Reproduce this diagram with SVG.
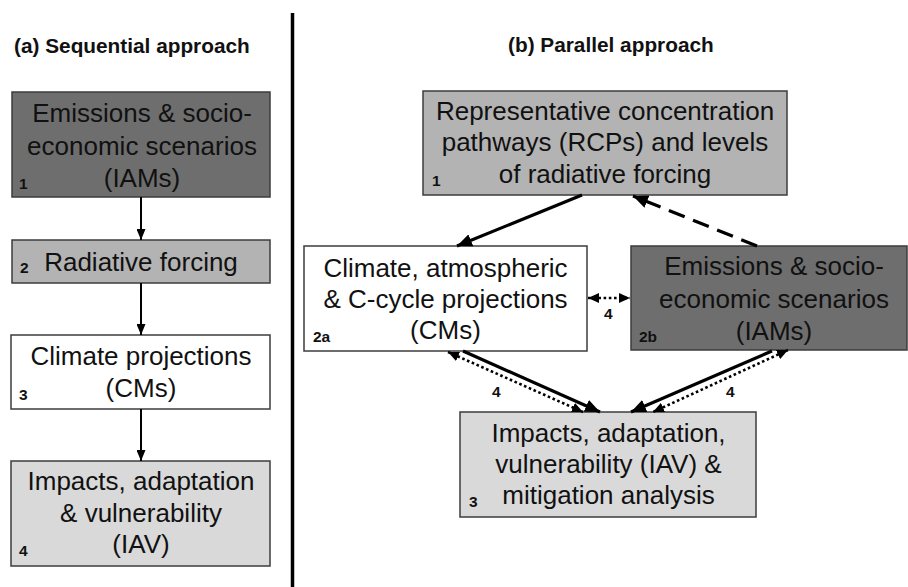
<svg xmlns="http://www.w3.org/2000/svg" width="908" height="587" viewBox="0 0 908 587">
<defs>
<style>
.bx{stroke:#3c3c3c;stroke-width:1.5}
.dark{fill:#6e6e6e}
.mid{fill:#b3b3b3}
.light{fill:#d9d9d9}
.white{fill:#ffffff}
.t{font-family:"Liberation Sans",Arial,sans-serif;font-size:26px;fill:#111;text-anchor:middle}
.n{font-family:"Liberation Sans",Arial,sans-serif;font-size:15.5px;font-weight:bold;fill:#111}
.h{font-family:"Liberation Sans",Arial,sans-serif;font-size:20.8px;font-weight:bold;fill:#111}
.a2{stroke:#000;stroke-width:2;fill:none}
.a3{stroke:#000;stroke-width:3.2;fill:none}
.dash{stroke:#000;stroke-width:3.2;fill:none;stroke-dasharray:17 9}
.dot{stroke:#000;stroke-width:2.6;fill:none;stroke-dasharray:2.6 2.6}
</style>
<marker id="hs" markerUnits="userSpaceOnUse" markerWidth="11" markerHeight="9" refX="11" refY="4.5" orient="auto"><path d="M0,0 L11,4.5 L0,9 z" fill="#000"/></marker>
<marker id="hl" markerUnits="userSpaceOnUse" markerWidth="15" markerHeight="13" refX="15" refY="6.5" orient="auto"><path d="M0,0 L15,6.5 L0,13 z" fill="#000"/></marker>
<marker id="hd" markerUnits="userSpaceOnUse" markerWidth="11" markerHeight="10" refX="11" refY="5" orient="auto-start-reverse"><path d="M0,0 L11,5 L0,10 z" fill="#000"/></marker>
</defs>
<rect width="908" height="587" fill="#fff"/>
<line x1="292.5" y1="13" x2="292.5" y2="587" stroke="#000" stroke-width="3.5"/>
<text class="h" x="14" y="53">(a) Sequential approach</text>
<text class="h" x="508" y="52">(b) Parallel approach</text>

<g id="a1">
<rect class="bx dark" x="12" y="92" width="258" height="105"/>
<text class="t" x="142" y="122">Emissions &amp; socio-</text>
<text class="t" x="142" y="155">economic scenarios</text>
<text class="t" x="142" y="187">(IAMs)</text>
<text class="n" x="19" y="189">1</text>
</g>
<g id="a2">
<rect class="bx mid" x="12" y="240" width="258" height="43"/>
<text class="t" x="141" y="271">Radiative forcing</text>
<text class="n" x="20" y="273">2</text>
</g>
<g id="a3">
<rect class="bx white" x="11" y="335" width="259" height="74"/>
<text class="t" x="141" y="365">Climate projections</text>
<text class="t" x="141" y="397">(CMs)</text>
<text class="n" x="19" y="400">3</text>
</g>
<g id="a4">
<rect class="bx light" x="11" y="461" width="259" height="105"/>
<text class="t" x="141" y="490">Impacts, adaptation</text>
<text class="t" x="141" y="522">&amp; vulnerability</text>
<text class="t" x="141" y="553">(IAV)</text>
<text class="n" x="19" y="556">4</text>
</g>

<g id="b1">
<rect class="bx mid" x="423" y="91" width="364" height="104"/>
<text class="t" x="605" y="120">Representative concentration</text>
<text class="t" x="605" y="151">pathways (RCPs) and levels</text>
<text class="t" x="605" y="183">of radiative forcing</text>
<text class="n" x="432" y="186">1</text>
</g>
<g id="b2a">
<rect class="bx white" x="304" y="246" width="283" height="105"/>
<text class="t" x="445.5" y="277">Climate, atmospheric</text>
<text class="t" x="445.5" y="308">&amp; C-cycle projections</text>
<text class="t" x="445.5" y="339">(CMs)</text>
<text class="n" x="313" y="342">2a</text>
</g>
<g id="b2b">
<rect class="bx dark" x="631" y="246" width="276" height="104"/>
<text class="t" x="774" y="275">Emissions &amp; socio-</text>
<text class="t" x="774" y="308">economic scenarios</text>
<text class="t" x="774" y="340">(IAMs)</text>
<text class="n" x="639" y="342">2b</text>
</g>
<g id="b3">
<rect class="bx light" x="460" y="412" width="296" height="105"/>
<text class="t" x="608.5" y="442">Impacts, adaptation,</text>
<text class="t" x="608.5" y="473">vulnerability (IAV) &amp;</text>
<text class="t" x="608.5" y="504">mitigation analysis</text>
<text class="n" x="469" y="507">3</text>
</g>

<g id="connectors">
<line class="a2" x1="141" y1="197" x2="141" y2="240" marker-end="url(#hs)"/>
<line class="a2" x1="141" y1="283" x2="141" y2="335" marker-end="url(#hs)"/>
<line class="a2" x1="141" y1="409" x2="141" y2="461" marker-end="url(#hs)"/>

<line class="a3" x1="582" y1="195" x2="457" y2="246" marker-end="url(#hl)"/>
<line class="dash" x1="757" y1="246" x2="633" y2="196" marker-end="url(#hl)"/>
<line class="dot" x1="588" y1="298" x2="630" y2="298" marker-start="url(#hd)" marker-end="url(#hd)"/>
<line class="a3" x1="463" y1="351" x2="600" y2="412" marker-end="url(#hl)"/>
<line class="dot" x1="448" y1="352" x2="583" y2="412" marker-start="url(#hd)" marker-end="url(#hd)"/>
<line class="a3" x1="772" y1="351" x2="631" y2="412" marker-end="url(#hl)"/>
<line class="dot" x1="788" y1="350" x2="653" y2="412" marker-start="url(#hd)" marker-end="url(#hd)"/>
<text class="n" x="604" y="319">4</text>
<text class="n" x="492" y="397">4</text>
<text class="n" x="726" y="397">4</text>
</g>
</svg>
